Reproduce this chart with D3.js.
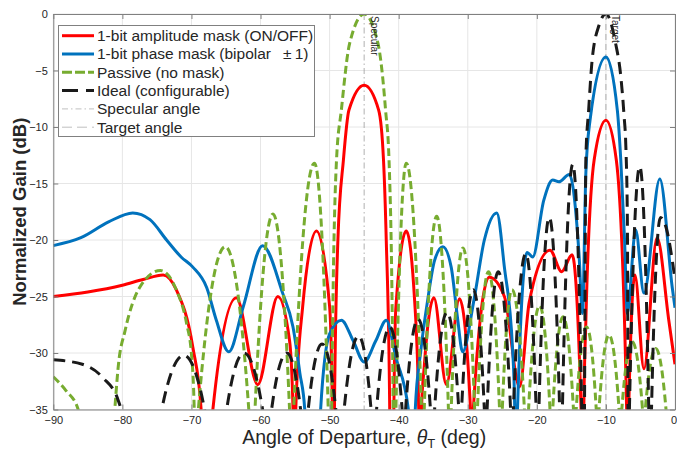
<!DOCTYPE html>
<html>
<head>
<meta charset="utf-8">
<script src="https://cdn.jsdelivr.net/npm/d3@7"></script>
<style>
  body { margin: 0; background: #fff; }
  text { font-family: "Liberation Sans", Arial, Helvetica, sans-serif; fill: #262626; }
</style>
</head>
<body>
<svg id="chart" width="677" height="452"></svg>
<script>
// [angle (deg), normalized gain (dB)]; values below -35 are clipped nulls
const amplitudeMask = [
  [-90,-25.0],[-85,-24.6],[-80,-24.0],[-77,-23.5],[-74.1,-23.1],[-72.2,-24.4],[-69.8,-29.5],[-68.6,-35],[-67.8,-60],[-66.9,-35],
  [-63.5,-25.1],[-60.4,-32.8],[-57.5,-25.0],[-55.8,-28.9],[-55.3,-35],[-55.1,-60],[-54.9,-35],[-53.9,-25.9],[-51.9,-19.2],
  [-50.0,-25.9],[-49.6,-35],[-49.5,-60],[-49.3,-35],[-48.8,-20],[-48.0,-12.9],[-47.2,-8.5],[-45,-6.3],[-42.9,-8.5],[-42.2,-12.9],
  [-41.8,-20],[-41.3,-35],[-41.0,-60],[-40.7,-35],[-40.4,-25.9],[-38.9,-19.2],[-37.7,-25.3],[-37.1,-35],[-36.9,-60],[-36.7,-35],
  [-36.3,-31.2],[-34.9,-25.1],[-33.1,-32.8],[-31.2,-25.2],[-29.6,-35],[-29.4,-60],[-29.2,-35],[-26.9,-23.3],[-24.7,-25.0],
  [-22.5,-33.0],[-21.1,-25.5],[-18.1,-20.9],[-16.4,-22.8],[-14.9,-21.3],[-13.6,-35],[-13.4,-60],[-13.2,-35],[-12.9,-27.1],
  [-11.7,-12.9],[-10,-9.4],[-8.5,-12.9],[-7.0,-35],[-6.9,-60],[-6.7,-35],[-5.8,-23.1],[-4.5,-31.4],[-2.6,-19.8],[-0.9,-27.1],[0,-31]
];
const phaseMask = [
  [-90,-20.5],[-86,-19.8],[-82,-18.4],[-78.5,-17.6],[-76,-18.2],[-73.6,-20.0],[-71.5,-21.5],[-69.8,-22.4],[-67.8,-24.2],
  [-66.4,-27.1],[-64.6,-29.9],[-62.5,-25.9],[-59.7,-20.5],[-56.8,-24.7],[-55.3,-27.7],[-54.3,-31.8],[-53.6,-35],[-52.4,-60],
  [-51.3,-35],[-50.0,-28.3],[-48.3,-27.1],[-46.6,-28.9],[-45.0,-30.8],[-43.3,-28.9],[-41.8,-27.1],[-40.4,-30.4],[-38.6,-35],
  [-38.2,-60],[-37.6,-35],[-36.8,-29.8],[-35.8,-25.3],[-34.8,-21.8],[-33.6,-20.6],[-32.4,-22.4],[-31.5,-26.8],[-30.75,-29.9],
  [-29.1,-25.3],[-27.6,-20.0],[-25.8,-17.6],[-24.7,-22.4],[-23.5,-29.8],[-23.2,-35],[-23.0,-60],[-22.8,-35],[-21.4,-21.1],
  [-20.6,-21.5],[-19.0,-16.5],[-17.7,-14.7],[-16.8,-14.85],[-15.3,-14.2],[-13.9,-21.2],[-13.4,-26.5],[-12.9,-14],[-12.3,-9.4],
  [-10.0,-3.8],[-8.35,-8.5],[-7.85,-12.9],[-7.3,-20],[-6.9,-26.5],[-5.7,-19.1],[-4.5,-24.7],[-2.2,-14.6],[-0.4,-24.2],[0,-26]
];
const passive = [
  [-90,-32.1],[-88.2,-33.3],[-86.4,-35],[-83.8,-60],[-81.1,-35],[-80.6,-31.2],[-79.6,-28.0],[-77.5,-24.2],[-74.5,-22.7],
  [-72.2,-24.4],[-70.7,-27.4],[-70.0,-30.1],[-69.6,-35],[-69.3,-60],[-69.0,-35],[-65.1,-20.6],[-61.7,-35],[-61.2,-60],[-60.8,-35],
  [-58.2,-17.7],[-55.8,-35],[-55.5,-60],[-55.2,-35],[-52.2,-13.2],[-50.2,-35],[-50.0,-60],[-49.7,-35],[-49.0,-12.9],[-48.3,-8.5],
  [-47.1,-2.6],[-45,0],[-43.0,-2.6],[-41.9,-8.5],[-41.4,-12.9],[-40.8,-35],[-40.6,-60],[-40.4,-35],[-38.9,-13.2],[-36.7,-35],
  [-36.5,-60],[-36.3,-35],[-34.5,-17.9],[-32.8,-35],[-32.6,-60],[-32.4,-35],[-30.7,-20.7],[-29.0,-35],[-28.8,-60],[-28.6,-35],
  [-27.0,-22.8],[-25.4,-35],[-25.2,-60],[-25.0,-35],[-23.6,-24.4],[-21.8,-35],[-21.5,-60],[-21.2,-35],[-19.6,-25.8],[-18.1,-35],
  [-17.9,-60],[-17.7,-35],[-16.2,-26.8],[-14.7,-35],[-14.5,-60],[-14.3,-35],[-12.8,-27.7],[-11.4,-35],[-11.2,-60],[-11.0,-35],
  [-9.55,-28.4],[-8.1,-35],[-7.9,-60],[-7.7,-35],[-6.2,-29.0],[-4.7,-35],[-4.5,-60],[-4.3,-35],[-2.8,-29.6],[-1.3,-35],[-1.1,-60],[0,-45]
];
const ideal = [
  [-90,-30.6],[-85.8,-31.0],[-82.8,-32.2],[-80.6,-34.2],[-80.2,-35],[-77.3,-60],[-74.3,-35],[-71.1,-30.2],[-68.1,-35],[-66.5,-60],
  [-64.9,-35],[-62.4,-30.0],[-59.7,-35],[-59.1,-60],[-58.4,-35],[-56.2,-30.0],[-54.2,-35],[-53.7,-60],[-53.1,-35],[-51.1,-29.2],
  [-49.1,-35],[-48.5,-60],[-47.9,-35],[-45.8,-28.5],[-44.0,-35],[-43.6,-60],[-43.2,-35],[-41.3,-27.7],[-39.5,-35],[-39.3,-60],
  [-39.0,-35],[-37.2,-27.0],[-35.4,-35],[-35.1,-60],[-34.8,-35],[-33.0,-26.4],[-31.3,-35],[-31.1,-60],[-30.9,-35],[-29.2,-24.4],
  [-27.6,-35],[-27.4,-60],[-27.2,-35],[-25.6,-22.8],[-23.8,-35],[-23.6,-60],[-23.4,-35],[-21.6,-21.2],[-20.1,-35],[-19.9,-60],
  [-19.7,-35],[-18.2,-18.0],[-16.7,-35],[-16.5,-60],[-16.3,-35],[-14.8,-13.3],[-13.5,-35],[-13.3,-60],[-13.1,-35],[-12.9,-12.6],
  [-12.5,-8.5],[-12.0,-4.1],[-11.0,-1.0],[-10,0],[-8.6,-2.6],[-7.85,-5.5],[-7.4,-8.8],[-7.1,-12.0],[-6.9,-18],[-6.8,-35],
  [-6.7,-60],[-6.6,-35],[-5.1,-13.5],[-3.8,-35],[-3.6,-60],[-3.4,-35],[-2.1,-18.0],[-1.2,-19.1],[0,-23.5]
];

const xTicks = [-90,-80,-70,-60,-50,-40,-30,-20,-10,0];
const yTicks = [-35,-30,-25,-20,-15,-10,-5,0];
const specularAngle = -45;
const targetAngle = -10;

const series = [
  { name: "1-bit amplitude mask (ON/OFF)", data: amplitudeMask, color: "#ff0000", dash: null, legendDash: null },
  { name: "1-bit phase mask (bipolar \u2002\u00b1\u20091)", data: phaseMask, color: "#0072bd", dash: null, legendDash: null },
  { name: "Passive (no mask)", data: passive, color: "#77ac30", dash: "8,4", legendDash: "10,3" },
  { name: "Ideal (configurable)", data: ideal, color: "#1a1a1a", dash: "12,7", legendDash: "16,8" }
];

const plotLeft = 53.3, plotRight = 675, plotTop = 14, plotBottom = 409.5;

const svg = d3.select("#chart");

const x = d3.scaleLinear().domain([-90, 0]).range([plotLeft, plotRight]);
const y = d3.scaleLinear().domain([-35, 0]).range([plotBottom, plotTop]);

svg.append("defs").append("clipPath").attr("id", "plotClip")
  .append("rect").attr("x", plotLeft).attr("y", plotTop)
  .attr("width", plotRight - plotLeft).attr("height", plotBottom - plotTop);

// grid
svg.append("g").selectAll("line").data(xTicks).enter().append("line")
  .attr("x1", d => x(d)).attr("x2", d => x(d)).attr("y1", plotTop).attr("y2", plotBottom)
  .attr("stroke", "#e6e6e6").attr("stroke-width", 1);
svg.append("g").selectAll("line").data(yTicks).enter().append("line")
  .attr("x1", plotLeft).attr("x2", plotRight).attr("y1", d => y(d)).attr("y2", d => y(d))
  .attr("stroke", "#e6e6e6").attr("stroke-width", 1);

// reference angle lines
svg.append("line")
  .attr("x1", x(specularAngle)).attr("x2", x(specularAngle)).attr("y1", plotTop).attr("y2", plotBottom)
  .attr("stroke", "#9a9a9a").attr("stroke-width", 0.8).attr("stroke-dasharray", "6,3,1.5,3");
svg.append("line")
  .attr("x1", x(targetAngle)).attr("x2", x(targetAngle)).attr("y1", plotTop).attr("y2", plotBottom)
  .attr("stroke", "#9a9a9a").attr("stroke-width", 0.8).attr("stroke-dasharray", "6,4");

const line = d3.line()
  .x(d => x(d[0]))
  .y(d => y(d[1]))
  .curve(d3.curveMonotoneX);

const plot = svg.append("g").attr("clip-path", "url(#plotClip)");
series.forEach(s => {
  plot.append("path")
    .datum(s.data)
    .attr("d", line)
    .attr("fill", "none")
    .attr("stroke", s.color)
    .attr("stroke-width", 3)
    .attr("stroke-dasharray", s.dash);
});

// axes (box with inward ticks)
const axisColor = "#262626";
const gx = svg.append("g").attr("transform", `translate(0,${plotBottom})`)
  .call(d3.axisBottom(x).tickValues(xTicks).tickSizeInner(-5).tickSizeOuter(0).tickPadding(7));
const gxTop = svg.append("g").attr("transform", `translate(0,${plotTop})`)
  .call(d3.axisTop(x).tickValues(xTicks).tickSizeInner(-5).tickSizeOuter(0).tickFormat(""));
const gy = svg.append("g").attr("transform", `translate(${plotLeft},0)`)
  .call(d3.axisLeft(y).tickValues(yTicks).tickSizeInner(-5).tickSizeOuter(0).tickPadding(5.5));
const gyRight = svg.append("g").attr("transform", `translate(${plotRight},0)`)
  .call(d3.axisRight(y).tickValues(yTicks).tickSizeInner(-5).tickSizeOuter(0).tickFormat(""));

[gx, gxTop, gy, gyRight].forEach(g => {
  g.select(".domain").attr("stroke", "#808080").attr("stroke-width", 1);
  g.selectAll(".tick line").attr("stroke", "#808080");
  g.selectAll(".tick text").attr("font-size", 11).attr("fill", axisColor)
    .style("font-family", "'Liberation Sans', Arial, sans-serif");
});
// keep the last x tick label inside the page
gx.selectAll(".tick text").filter(d => d === 0).attr("dx", -1.5);

// axis labels
const xLabel = svg.append("text")
  .attr("x", (plotLeft + plotRight) / 2).attr("y", 444)
  .attr("text-anchor", "middle").attr("font-size", 19.5);
xLabel.append("tspan").text("Angle of Departure, ");
xLabel.append("tspan").attr("font-style", "italic").text("\u03b8");
xLabel.append("tspan").attr("font-size", 13).attr("dy", 4).text("T");
xLabel.append("tspan").attr("dy", -4).text(" (deg)");

svg.append("text")
  .attr("transform", `translate(25.5,${(plotTop + plotBottom) / 2}) rotate(-90)`)
  .attr("text-anchor", "middle").attr("font-size", 18.5).attr("font-weight", "bold")
  .text("Normalized Gain (dB)");

// rotated line annotations
svg.append("text")
  .attr("transform", `translate(${x(specularAngle) + 7},16) rotate(90)`)
  .attr("font-size", 10).attr("fill", "#111").text("Specular");
svg.append("text")
  .attr("transform", `translate(${x(targetAngle) + 6},15) rotate(90)`)
  .attr("font-size", 10).attr("fill", "#111").text("Target");

// legend
const legendItems = series.map(s => ({ name: s.name, color: s.color, dash: s.legendDash, width: 3 }))
  .concat([
    { name: "Specular angle", color: "#b0b0b0", dash: "6,3,1.5,3", width: 0.8 },
    { name: "Target angle", color: "#b0b0b0", dash: "10,5", width: 0.8 }
  ]);

const legend = svg.append("g");
legend.append("rect")
  .attr("x", 58.5).attr("y", 25.5).attr("width", 256).attr("height", 111)
  .attr("fill", "#fff").attr("stroke", "#808080").attr("stroke-width", 1);

const rows = legend.selectAll("g.row").data(legendItems).enter().append("g")
  .attr("class", "row")
  .attr("transform", (d, i) => `translate(0,${35.7 + i * 18.3})`);
rows.append("line")
  .attr("x1", 62).attr("x2", 94)
  .attr("stroke", d => d.color).attr("stroke-width", d => d.width)
  .attr("stroke-dasharray", d => d.dash);
rows.append("text")
  .attr("x", 97).attr("dy", "0.35em").attr("font-size", 15.5).attr("fill", "#1a1a1a")
  .style("white-space", "pre")
  .text(d => d.name);
</script>
</body>
</html>
